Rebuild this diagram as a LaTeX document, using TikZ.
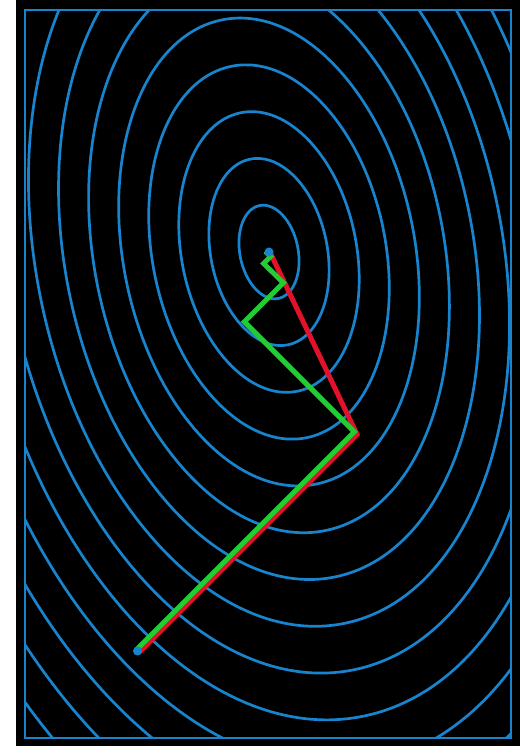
\documentclass[tikz,border=0pt]{standalone}
\definecolor{contour}{RGB}{24,132,206}
\definecolor{cgred}{RGB}{226,18,42}
\definecolor{sdgreen}{RGB}{34,204,51}
\begin{document}
\begin{tikzpicture}[x=1pt,y=1pt]
%width=525px
%height=746px
\useasboundingbox (0,0) rectangle (525,746);
\fill[black] (16,0) rectangle (520,746);
% coordinates
\coordinate (min) at (269.0,494.0);
\coordinate (x0)  at (137.5, 95.0);
\coordinate (x1)  at (355.5,313.0);
\coordinate (x2)  at (245.5,423.0);
\coordinate (x3)  at (284.5,462.0);
\coordinate (x4)  at (264.8,481.3);
\coordinate (x5)  at (271.8,488.2);
\coordinate (x6)  at (268.3,491.7);
\coordinate (x7)  at (269.5,493.0);
% contours
\begin{scope}
\clip (25,8) rectangle (511,736);
\begin{scope}[shift={(min)},rotate=11.46,line width=2.7pt,color=contour]
\draw (0,0) ellipse ( 29.13 and  47.37);
\draw (0,0) ellipse ( 58.26 and  94.74);
\draw (0,0) ellipse ( 87.39 and 142.11);
\draw (0,0) ellipse (116.52 and 189.48);
\draw (0,0) ellipse (145.65 and 236.85);
\draw (0,0) ellipse (174.78 and 284.22);
\draw (0,0) ellipse (203.91 and 331.59);
\draw (0,0) ellipse (233.04 and 378.96);
\draw (0,0) ellipse (262.17 and 426.33);
\draw (0,0) ellipse (291.30 and 473.70);
\draw (0,0) ellipse (320.43 and 521.07);
\draw (0,0) ellipse (349.56 and 568.44);
\draw (0,0) ellipse (378.69 and 615.81);
\draw (0,0) ellipse (407.82 and 663.18);
\end{scope}
\end{scope}
\draw[line width=2pt,contour] (25,8) rectangle (511,736);
% conjugate gradient
\draw[line width=5pt,cgred,transform canvas={shift={(1.6,-1.6)}}] (x0) -- (x1) -- (min);
% steepest descent
\draw[line width=5pt,sdgreen,transform canvas={shift={(-1.2,1.2)}}] (x0) -- (x1) -- (x2) -- (x3) -- (x4) -- (x5) -- (x6) -- (x7);
% end points
\fill[contour] (x0)  circle (4.5pt);
\fill[contour] (min) circle (4.5pt);
\end{tikzpicture}
\end{document}
